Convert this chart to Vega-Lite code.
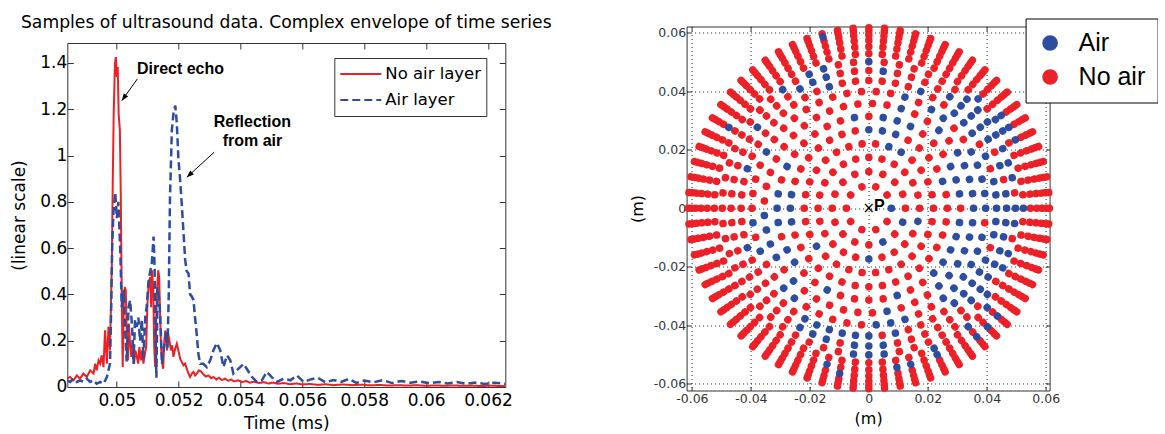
{
"$schema":"https://vega.github.io/schema/vega-lite/v6.json",
"background":"white",
"padding":{"left":9.3,"top":13.5,"right":0,"bottom":0},
"config":{"view":{"stroke":null},"font":"DejaVu Sans","axis":{"labelFont":"DejaVu Sans","titleFont":"DejaVu Sans","titleFontWeight":"normal","labelColor":"black","titleColor":"black","domainColor":"#333","tickColor":"#333","labelOverlap":false,"labelFlush":false,"labelBound":false}},
"resolve":{"scale":{"color":"independent","strokeDash":"independent","stroke":"independent"},"legend":{"color":"independent","strokeDash":"independent"}},
"datasets":{
"rings":[{"k":1,"r":0.0076,"r2":0.00765},{"k":2,"r":0.0124,"r2":0.01245},{"k":3,"r":0.0172,"r2":0.01725},{"k":4,"r":0.0219,"r2":0.02195},{"k":5,"r":0.0266,"r2":0.02665},{"k":6,"r":0.0311,"r2":0.03115},{"k":7,"r":0.0355,"r2":0.03555},{"k":8,"r":0.0396,"r2":0.03965},{"k":9,"r":0.0433,"r2":0.04335},{"k":10,"r":0.0467,"r2":0.04675},{"k":11,"r":0.0497,"r2":0.04975},{"k":12,"r":0.0524,"r2":0.05245},{"k":13,"r":0.0548,"r2":0.05485},{"k":14,"r":0.0569,"r2":0.05695},{"k":15,"r":0.0587,"r2":0.05875},{"k":16,"r":0.0601,"r2":0.06015},{"k":17,"r":0.0612,"r2":0.06125}],
"air":[{"k":1,"a":90},{"k":2,"a":112.5},{"k":2,"a":157.5},{"k":3,"a":105},{"k":3,"a":180},{"k":4,"a":18},{"k":4,"a":30},{"k":4,"a":234},
{"k":5,"a":0},{"k":5,"a":10},{"k":5,"a":20},{"k":5,"a":70},{"k":5,"a":260},{"k":5,"a":270},{"k":5,"a":280},
{"k":6,"a":9},{"k":6,"a":18},{"k":6,"a":27},{"k":6,"a":63},{"k":6,"a":72},{"k":6,"a":81},{"k":6,"a":99},{"k":6,"a":108},{"k":6,"a":117},{"k":6,"a":126},{"k":6,"a":135},{"k":6,"a":162},{"k":6,"a":207},{"k":6,"a":234},{"k":6,"a":243},{"k":6,"a":261},{"k":6,"a":270},{"k":6,"a":279},{"k":6,"a":297},{"k":6,"a":351},
{"k":7,"a":18},{"k":7,"a":42},{"k":7,"a":58},{"k":7,"a":66},{"k":7,"a":74},{"k":7,"a":82},{"k":7,"a":90},{"k":7,"a":98},{"k":7,"a":106},{"k":7,"a":114},{"k":7,"a":122},{"k":7,"a":130},{"k":7,"a":138},{"k":7,"a":170},{"k":7,"a":226},{"k":7,"a":242},{"k":7,"a":250},{"k":7,"a":258},{"k":7,"a":266},
{"k":8,"a":18},{"k":8,"a":32.4},{"k":8,"a":39.6},{"k":8,"a":61.2},{"k":8,"a":68.4},{"k":8,"a":75.6},{"k":8,"a":82.8},{"k":8,"a":90},{"k":8,"a":104.4},{"k":8,"a":111.6},{"k":8,"a":118.8},{"k":8,"a":126},{"k":8,"a":133.2},{"k":8,"a":140.4},{"k":8,"a":162},{"k":8,"a":169.2},{"k":8,"a":176.4},{"k":8,"a":219.6},{"k":8,"a":226.8},{"k":8,"a":248.4},{"k":8,"a":262.8},{"k":8,"a":298.8},
{"k":9,"a":24},{"k":9,"a":42},{"k":9,"a":48},{"k":9,"a":54},{"k":9,"a":66},{"k":9,"a":78},{"k":9,"a":84},{"k":9,"a":90},{"k":9,"a":96},{"k":9,"a":102},{"k":9,"a":114},{"k":9,"a":120},{"k":9,"a":126},{"k":9,"a":132},{"k":9,"a":138},{"k":9,"a":168},{"k":9,"a":180},{"k":9,"a":186},{"k":9,"a":192},{"k":9,"a":198},{"k":9,"a":204},{"k":9,"a":210},{"k":9,"a":252},{"k":9,"a":288},{"k":9,"a":342},
{"k":10,"a":6},{"k":10,"a":36},{"k":10,"a":42},{"k":10,"a":48},{"k":10,"a":54},{"k":10,"a":60},{"k":10,"a":72},{"k":10,"a":84},{"k":10,"a":90},{"k":10,"a":96},{"k":10,"a":102},{"k":10,"a":108},{"k":10,"a":114},{"k":10,"a":120},{"k":10,"a":126},{"k":10,"a":132},{"k":10,"a":174},{"k":10,"a":180},{"k":10,"a":186},{"k":10,"a":198},{"k":10,"a":204},{"k":10,"a":210},{"k":10,"a":306},{"k":10,"a":330},{"k":10,"a":336},{"k":10,"a":342},
{"k":11,"a":0},{"k":11,"a":42},{"k":11,"a":48},{"k":11,"a":54},{"k":11,"a":60},{"k":11,"a":66},{"k":11,"a":72},{"k":11,"a":78},{"k":11,"a":90},{"k":11,"a":96},{"k":11,"a":108},{"k":11,"a":114},{"k":11,"a":126},{"k":11,"a":174},{"k":11,"a":180},{"k":11,"a":186},{"k":11,"a":324},{"k":11,"a":336},{"k":11,"a":342},
{"k":12,"a":45},{"k":12,"a":55},{"k":12,"a":60},{"k":12,"a":90},{"k":12,"a":130},{"k":12,"a":140},{"k":12,"a":155},
{"k":13,"a":55},{"k":13,"a":60},{"k":13,"a":65},{"k":13,"a":155},{"k":13,"a":165},{"k":13,"a":170},{"k":13,"a":195},{"k":13,"a":300},
{"k":14,"a":130},{"k":14,"a":135},{"k":14,"a":140},{"k":14,"a":190},{"k":16,"a":345}],
"noair":[{"k":1,"a":18},{"k":1,"a":54},{"k":1,"a":126},{"k":1,"a":162},{"k":1,"a":198},{"k":1,"a":234},{"k":1,"a":270},{"k":1,"a":306},{"k":1,"a":342},
{"k":2,"a":0},{"k":2,"a":22.5},{"k":2,"a":45},{"k":2,"a":67.5},{"k":2,"a":90},{"k":2,"a":135},{"k":2,"a":180},{"k":2,"a":202.5},{"k":2,"a":225},{"k":2,"a":247.5},{"k":2,"a":270},{"k":2,"a":292.5},{"k":2,"a":315},{"k":2,"a":337.5},
{"k":3,"a":0},{"k":3,"a":15},{"k":3,"a":30},{"k":3,"a":45},{"k":3,"a":60},{"k":3,"a":75},{"k":3,"a":90},{"k":3,"a":120},{"k":3,"a":135},{"k":3,"a":150},{"k":3,"a":165},{"k":3,"a":195},{"k":3,"a":210},{"k":3,"a":225},{"k":3,"a":240},{"k":3,"a":255},{"k":3,"a":270},{"k":3,"a":285},{"k":3,"a":300},{"k":3,"a":315},{"k":3,"a":330},{"k":3,"a":345},
{"k":4,"a":6},{"k":4,"a":42},{"k":4,"a":54},{"k":4,"a":66},{"k":4,"a":78},{"k":4,"a":90},{"k":4,"a":102},{"k":4,"a":114},{"k":4,"a":126},{"k":4,"a":138},{"k":4,"a":150},{"k":4,"a":162},{"k":4,"a":174},{"k":4,"a":186},{"k":4,"a":198},{"k":4,"a":210},{"k":4,"a":222},{"k":4,"a":246},{"k":4,"a":258},{"k":4,"a":270},{"k":4,"a":282},{"k":4,"a":294},{"k":4,"a":306},{"k":4,"a":318},{"k":4,"a":330},{"k":4,"a":342},{"k":4,"a":354},
{"k":5,"a":30},{"k":5,"a":40},{"k":5,"a":50},{"k":5,"a":60},{"k":5,"a":80},{"k":5,"a":90},{"k":5,"a":100},{"k":5,"a":110},{"k":5,"a":120},{"k":5,"a":130},{"k":5,"a":140},{"k":5,"a":150},{"k":5,"a":160},{"k":5,"a":170},{"k":5,"a":180},{"k":5,"a":190},{"k":5,"a":200},{"k":5,"a":210},{"k":5,"a":220},{"k":5,"a":230},{"k":5,"a":240},{"k":5,"a":250},{"k":5,"a":290},{"k":5,"a":300},{"k":5,"a":310},{"k":5,"a":320},{"k":5,"a":330},{"k":5,"a":340},{"k":5,"a":350},
{"k":6,"a":0},{"k":6,"a":36},{"k":6,"a":45},{"k":6,"a":54},{"k":6,"a":90},{"k":6,"a":144},{"k":6,"a":153},{"k":6,"a":171},{"k":6,"a":180},{"k":6,"a":189},{"k":6,"a":198},{"k":6,"a":216},{"k":6,"a":225},{"k":6,"a":252},{"k":6,"a":288},{"k":6,"a":306},{"k":6,"a":315},{"k":6,"a":324},{"k":6,"a":333},{"k":6,"a":342},
{"k":7,"a":2},{"k":7,"a":10},{"k":7,"a":26},{"k":7,"a":34},{"k":7,"a":50},{"k":7,"a":146},{"k":7,"a":154},{"k":7,"a":162},{"k":7,"a":178},{"k":7,"a":186},{"k":7,"a":194},{"k":7,"a":202},{"k":7,"a":210},{"k":7,"a":218},{"k":7,"a":234},{"k":7,"a":274},{"k":7,"a":282},{"k":7,"a":290},{"k":7,"a":298},{"k":7,"a":306},{"k":7,"a":314},{"k":7,"a":322},{"k":7,"a":330},{"k":7,"a":338},{"k":7,"a":346},{"k":7,"a":354},
{"k":8,"a":3.6},{"k":8,"a":10.8},{"k":8,"a":25.2},{"k":8,"a":46.8},{"k":8,"a":54},{"k":8,"a":97.2},{"k":8,"a":147.6},{"k":8,"a":154.8},{"k":8,"a":183.6},{"k":8,"a":190.8},{"k":8,"a":198},{"k":8,"a":205.2},{"k":8,"a":212.4},{"k":8,"a":234},{"k":8,"a":241.2},{"k":8,"a":255.6},{"k":8,"a":270},{"k":8,"a":277.2},{"k":8,"a":284.4},{"k":8,"a":291.6},{"k":8,"a":306},{"k":8,"a":313.2},{"k":8,"a":320.4},{"k":8,"a":327.6},{"k":8,"a":334.8},{"k":8,"a":342},{"k":8,"a":349.2},{"k":8,"a":356.4},
{"k":9,"a":0},{"k":9,"a":6},{"k":9,"a":12},{"k":9,"a":18},{"k":9,"a":30},{"k":9,"a":36},{"k":9,"a":60},{"k":9,"a":72},{"k":9,"a":108},{"k":9,"a":144},{"k":9,"a":150},{"k":9,"a":156},{"k":9,"a":162},{"k":9,"a":174},{"k":9,"a":216},{"k":9,"a":222},{"k":9,"a":228},{"k":9,"a":234},{"k":9,"a":240},{"k":9,"a":246},{"k":9,"a":258},{"k":9,"a":264},{"k":9,"a":270},{"k":9,"a":276},{"k":9,"a":282},{"k":9,"a":294},{"k":9,"a":300},{"k":9,"a":306},{"k":9,"a":312},{"k":9,"a":318},{"k":9,"a":324},{"k":9,"a":330},{"k":9,"a":336},{"k":9,"a":348},{"k":9,"a":354},
{"k":10,"a":0},{"k":10,"a":12},{"k":10,"a":18},{"k":10,"a":24},{"k":10,"a":30},{"k":10,"a":66},{"k":10,"a":78},{"k":10,"a":138},{"k":10,"a":144},{"k":10,"a":150},{"k":10,"a":156},{"k":10,"a":162},{"k":10,"a":168},{"k":10,"a":192},{"k":10,"a":216},{"k":10,"a":222},{"k":10,"a":228},{"k":10,"a":234},{"k":10,"a":240},{"k":10,"a":246},{"k":10,"a":252},{"k":10,"a":258},{"k":10,"a":264},{"k":10,"a":270},{"k":10,"a":276},{"k":10,"a":282},{"k":10,"a":288},{"k":10,"a":294},{"k":10,"a":300},{"k":10,"a":312},{"k":10,"a":318},{"k":10,"a":324},{"k":10,"a":348},{"k":10,"a":354},
{"k":11,"a":6},{"k":11,"a":12},{"k":11,"a":18},{"k":11,"a":24},{"k":11,"a":30},{"k":11,"a":36},{"k":11,"a":84},{"k":11,"a":102},{"k":11,"a":120},{"k":11,"a":132},{"k":11,"a":138},{"k":11,"a":144},{"k":11,"a":150},{"k":11,"a":156},{"k":11,"a":162},{"k":11,"a":168},{"k":11,"a":192},{"k":11,"a":198},{"k":11,"a":204},{"k":11,"a":210},{"k":11,"a":216},{"k":11,"a":222},{"k":11,"a":228},{"k":11,"a":234},{"k":11,"a":240},{"k":11,"a":246},{"k":11,"a":252},{"k":11,"a":258},{"k":11,"a":264},{"k":11,"a":270},{"k":11,"a":276},{"k":11,"a":282},{"k":11,"a":288},{"k":11,"a":294},{"k":11,"a":300},{"k":11,"a":306},{"k":11,"a":312},{"k":11,"a":318},{"k":11,"a":330},{"k":11,"a":348},{"k":11,"a":354},
{"k":12,"a":0},{"k":12,"a":5},{"k":12,"a":10},{"k":12,"a":15},{"k":12,"a":20},{"k":12,"a":25},{"k":12,"a":30},{"k":12,"a":35},{"k":12,"a":40},{"k":12,"a":50},{"k":12,"a":65},{"k":12,"a":70},{"k":12,"a":75},{"k":12,"a":80},{"k":12,"a":85},{"k":12,"a":95},{"k":12,"a":100},{"k":12,"a":105},{"k":12,"a":110},{"k":12,"a":115},{"k":12,"a":120},{"k":12,"a":125},{"k":12,"a":135},{"k":12,"a":145},{"k":12,"a":150},{"k":12,"a":160},{"k":12,"a":165},{"k":12,"a":170},{"k":12,"a":175},{"k":12,"a":180},{"k":12,"a":185},{"k":12,"a":190},{"k":12,"a":195},{"k":12,"a":200},{"k":12,"a":205},{"k":12,"a":210},{"k":12,"a":215},{"k":12,"a":220},{"k":12,"a":225},{"k":12,"a":230},{"k":12,"a":235},{"k":12,"a":240},{"k":12,"a":245},{"k":12,"a":250},{"k":12,"a":255},{"k":12,"a":260},{"k":12,"a":265},{"k":12,"a":270},{"k":12,"a":275},{"k":12,"a":280},{"k":12,"a":285},{"k":12,"a":290},{"k":12,"a":295},{"k":12,"a":300},{"k":12,"a":305},{"k":12,"a":310},{"k":12,"a":315},{"k":12,"a":320},{"k":12,"a":325},{"k":12,"a":330},{"k":12,"a":335},{"k":12,"a":340},{"k":12,"a":345},{"k":12,"a":350},{"k":12,"a":355},
{"k":13,"a":0},{"k":13,"a":5},{"k":13,"a":10},{"k":13,"a":15},{"k":13,"a":20},{"k":13,"a":25},{"k":13,"a":30},{"k":13,"a":35},{"k":13,"a":40},{"k":13,"a":45},{"k":13,"a":50},{"k":13,"a":70},{"k":13,"a":75},{"k":13,"a":80},{"k":13,"a":85},{"k":13,"a":90},{"k":13,"a":95},{"k":13,"a":100},{"k":13,"a":105},{"k":13,"a":110},{"k":13,"a":115},{"k":13,"a":120},{"k":13,"a":125},{"k":13,"a":130},{"k":13,"a":135},{"k":13,"a":140},{"k":13,"a":145},{"k":13,"a":150},{"k":13,"a":160},{"k":13,"a":175},{"k":13,"a":180},{"k":13,"a":185},{"k":13,"a":190},{"k":13,"a":200},{"k":13,"a":205},{"k":13,"a":210},{"k":13,"a":215},{"k":13,"a":220},{"k":13,"a":225},{"k":13,"a":230},{"k":13,"a":235},{"k":13,"a":240},{"k":13,"a":245},{"k":13,"a":250},{"k":13,"a":255},{"k":13,"a":260},{"k":13,"a":265},{"k":13,"a":270},{"k":13,"a":275},{"k":13,"a":280},{"k":13,"a":285},{"k":13,"a":290},{"k":13,"a":295},{"k":13,"a":305},{"k":13,"a":310},{"k":13,"a":315},{"k":13,"a":320},{"k":13,"a":325},{"k":13,"a":330},{"k":13,"a":335},{"k":13,"a":340},{"k":13,"a":345},{"k":13,"a":350},{"k":13,"a":355},
{"k":14,"a":0},{"k":14,"a":5},{"k":14,"a":10},{"k":14,"a":15},{"k":14,"a":20},{"k":14,"a":25},{"k":14,"a":30},{"k":14,"a":35},{"k":14,"a":40},{"k":14,"a":45},{"k":14,"a":50},{"k":14,"a":55},{"k":14,"a":60},{"k":14,"a":65},{"k":14,"a":70},{"k":14,"a":75},{"k":14,"a":80},{"k":14,"a":85},{"k":14,"a":90},{"k":14,"a":95},{"k":14,"a":100},{"k":14,"a":105},{"k":14,"a":110},{"k":14,"a":115},{"k":14,"a":120},{"k":14,"a":125},{"k":14,"a":145},{"k":14,"a":150},{"k":14,"a":155},{"k":14,"a":160},{"k":14,"a":165},{"k":14,"a":170},{"k":14,"a":175},{"k":14,"a":180},{"k":14,"a":185},{"k":14,"a":195},{"k":14,"a":200},{"k":14,"a":205},{"k":14,"a":210},{"k":14,"a":215},{"k":14,"a":220},{"k":14,"a":225},{"k":14,"a":230},{"k":14,"a":235},{"k":14,"a":240},{"k":14,"a":245},{"k":14,"a":250},{"k":14,"a":255},{"k":14,"a":260},{"k":14,"a":265},{"k":14,"a":270},{"k":14,"a":275},{"k":14,"a":280},{"k":14,"a":285},{"k":14,"a":290},{"k":14,"a":295},{"k":14,"a":300},{"k":14,"a":305},{"k":14,"a":310},{"k":14,"a":315},{"k":14,"a":320},{"k":14,"a":325},{"k":14,"a":330},{"k":14,"a":335},{"k":14,"a":340},{"k":14,"a":345},{"k":14,"a":350},{"k":14,"a":355},
{"k":15,"a":0},{"k":15,"a":5},{"k":15,"a":10},{"k":15,"a":15},{"k":15,"a":20},{"k":15,"a":25},{"k":15,"a":30},{"k":15,"a":35},{"k":15,"a":40},{"k":15,"a":45},{"k":15,"a":50},{"k":15,"a":55},{"k":15,"a":60},{"k":15,"a":65},{"k":15,"a":70},{"k":15,"a":75},{"k":15,"a":80},{"k":15,"a":85},{"k":15,"a":90},{"k":15,"a":95},{"k":15,"a":100},{"k":15,"a":105},{"k":15,"a":110},{"k":15,"a":115},{"k":15,"a":120},{"k":15,"a":125},{"k":15,"a":130},{"k":15,"a":135},{"k":15,"a":140},{"k":15,"a":145},{"k":15,"a":150},{"k":15,"a":155},{"k":15,"a":160},{"k":15,"a":165},{"k":15,"a":170},{"k":15,"a":175},{"k":15,"a":180},{"k":15,"a":185},{"k":15,"a":190},{"k":15,"a":195},{"k":15,"a":200},{"k":15,"a":205},{"k":15,"a":210},{"k":15,"a":215},{"k":15,"a":220},{"k":15,"a":225},{"k":15,"a":230},{"k":15,"a":235},{"k":15,"a":240},{"k":15,"a":245},{"k":15,"a":250},{"k":15,"a":255},{"k":15,"a":260},{"k":15,"a":265},{"k":15,"a":270},{"k":15,"a":275},{"k":15,"a":280},{"k":15,"a":285},{"k":15,"a":290},{"k":15,"a":295},{"k":15,"a":300},{"k":15,"a":305},{"k":15,"a":310},{"k":15,"a":315},{"k":15,"a":320},{"k":15,"a":325},{"k":15,"a":330},{"k":15,"a":335},{"k":15,"a":340},{"k":15,"a":345},{"k":15,"a":350},{"k":15,"a":355},
{"k":16,"a":0},{"k":16,"a":5},{"k":16,"a":10},{"k":16,"a":15},{"k":16,"a":20},{"k":16,"a":25},{"k":16,"a":30},{"k":16,"a":35},{"k":16,"a":40},{"k":16,"a":45},{"k":16,"a":50},{"k":16,"a":55},{"k":16,"a":60},{"k":16,"a":65},{"k":16,"a":70},{"k":16,"a":75},{"k":16,"a":80},{"k":16,"a":85},{"k":16,"a":90},{"k":16,"a":95},{"k":16,"a":100},{"k":16,"a":105},{"k":16,"a":110},{"k":16,"a":115},{"k":16,"a":120},{"k":16,"a":125},{"k":16,"a":130},{"k":16,"a":135},{"k":16,"a":140},{"k":16,"a":145},{"k":16,"a":150},{"k":16,"a":155},{"k":16,"a":160},{"k":16,"a":165},{"k":16,"a":170},{"k":16,"a":175},{"k":16,"a":180},{"k":16,"a":185},{"k":16,"a":190},{"k":16,"a":195},{"k":16,"a":200},{"k":16,"a":205},{"k":16,"a":210},{"k":16,"a":215},{"k":16,"a":220},{"k":16,"a":225},{"k":16,"a":230},{"k":16,"a":235},{"k":16,"a":240},{"k":16,"a":245},{"k":16,"a":250},{"k":16,"a":255},{"k":16,"a":260},{"k":16,"a":265},{"k":16,"a":270},{"k":16,"a":275},{"k":16,"a":280},{"k":16,"a":285},{"k":16,"a":290},{"k":16,"a":295},{"k":16,"a":300},{"k":16,"a":305},{"k":16,"a":310},{"k":16,"a":315},{"k":16,"a":320},{"k":16,"a":325},{"k":16,"a":330},{"k":16,"a":335},{"k":16,"a":340},{"k":16,"a":350},{"k":16,"a":355},
{"k":17,"a":0},{"k":17,"a":5},{"k":17,"a":10},{"k":17,"a":15},{"k":17,"a":20},{"k":17,"a":25},{"k":17,"a":30},{"k":17,"a":35},{"k":17,"a":40},{"k":17,"a":45},{"k":17,"a":50},{"k":17,"a":55},{"k":17,"a":60},{"k":17,"a":65},{"k":17,"a":70},{"k":17,"a":75},{"k":17,"a":80},{"k":17,"a":85},{"k":17,"a":90},{"k":17,"a":95},{"k":17,"a":100},{"k":17,"a":105},{"k":17,"a":110},{"k":17,"a":115},{"k":17,"a":120},{"k":17,"a":125},{"k":17,"a":130},{"k":17,"a":135},{"k":17,"a":140},{"k":17,"a":145},{"k":17,"a":150},{"k":17,"a":155},{"k":17,"a":160},{"k":17,"a":165},{"k":17,"a":170},{"k":17,"a":175},{"k":17,"a":180},{"k":17,"a":185},{"k":17,"a":190},{"k":17,"a":195},{"k":17,"a":200},{"k":17,"a":205},{"k":17,"a":210},{"k":17,"a":215},{"k":17,"a":220},{"k":17,"a":225},{"k":17,"a":230},{"k":17,"a":235},{"k":17,"a":240},{"k":17,"a":245},{"k":17,"a":250},{"k":17,"a":255},{"k":17,"a":260},{"k":17,"a":265},{"k":17,"a":270},{"k":17,"a":275},{"k":17,"a":280},{"k":17,"a":285},{"k":17,"a":290},{"k":17,"a":295},{"k":17,"a":300},{"k":17,"a":305},{"k":17,"a":310},{"k":17,"a":315},{"k":17,"a":320},{"k":17,"a":325},{"k":17,"a":330},{"k":17,"a":335},{"k":17,"a":340},{"k":17,"a":345},{"k":17,"a":350},{"k":17,"a":355}],
"redline":[{"t":0.04838,"v":0.036},{"t":0.04849,"v":0.043},{"t":0.0486,"v":0.029},{"t":0.04871,"v":0.05},{"t":0.04881,"v":0.036},{"t":0.04892,"v":0.058},{"t":0.04903,"v":0.043},{"t":0.04914,"v":0.072},{"t":0.04925,"v":0.058},{"t":0.0493,"v":0.1},{"t":0.04935,"v":0.072},{"t":0.04941,"v":0.115},{"t":0.04946,"v":0.101},{"t":0.04951,"v":0.137},{"t":0.04957,"v":0.086},{"t":0.04962,"v":0.245},{"t":0.04968,"v":0.101},{"t":0.04973,"v":0.26},{"t":0.04978,"v":0.158},{"t":0.04984,"v":0.533},{"t":0.04987,"v":0.893},{"t":0.0499,"v":1.18},{"t":0.04994,"v":1.396},{"t":0.04997,"v":1.425},{"t":0.05,"v":1.339},{"t":0.05003,"v":1.382},{"t":0.05006,"v":1.18},{"t":0.0501,"v":1.108},{"t":0.05013,"v":0.82},{"t":0.05016,"v":0.389},{"t":0.05019,"v":0.086},{"t":0.05023,"v":0.389},{"t":0.05026,"v":0.432},{"t":0.05029,"v":0.418},{"t":0.05032,"v":0.245},{"t":0.05036,"v":0.115},{"t":0.05039,"v":0.274},{"t":0.05043,"v":0.187},{"t":0.05047,"v":0.13},{"t":0.05052,"v":0.202},{"t":0.05056,"v":0.101},{"t":0.0506,"v":0.158},{"t":0.05065,"v":0.13},{"t":0.05069,"v":0.101},{"t":0.05073,"v":0.173},{"t":0.05078,"v":0.115},{"t":0.05082,"v":0.158},{"t":0.05086,"v":0.101},{"t":0.05091,"v":0.144},{"t":0.05095,"v":0.173},{"t":0.05099,"v":0.36},{"t":0.05103,"v":0.446},{"t":0.05108,"v":0.475},{"t":0.05111,"v":0.345},{"t":0.05114,"v":0.504},{"t":0.05118,"v":0.418},{"t":0.05121,"v":0.173},{"t":0.05124,"v":0.086},{"t":0.05127,"v":0.274},{"t":0.0513,"v":0.418},{"t":0.05134,"v":0.504},{"t":0.05137,"v":0.475},{"t":0.0514,"v":0.317},{"t":0.05143,"v":0.173},{"t":0.05147,"v":0.101},{"t":0.0515,"v":0.079},{"t":0.05153,"v":0.187},{"t":0.05157,"v":0.245},{"t":0.05162,"v":0.158},{"t":0.05166,"v":0.23},{"t":0.0517,"v":0.202},{"t":0.05175,"v":0.158},{"t":0.05179,"v":0.18},{"t":0.05183,"v":0.13},{"t":0.05189,"v":0.166},{"t":0.05194,"v":0.187},{"t":0.05199,"v":0.158},{"t":0.05205,"v":0.122},{"t":0.0521,"v":0.108},{"t":0.05216,"v":0.094},{"t":0.05221,"v":0.101},{"t":0.05226,"v":0.079},{"t":0.05232,"v":0.058},{"t":0.05237,"v":0.043},{"t":0.05243,"v":0.058},{"t":0.05248,"v":0.065},{"t":0.05253,"v":0.05},{"t":0.05259,"v":0.058},{"t":0.05265,"v":0.072},{"t":0.05272,"v":0.068},{"t":0.0528,"v":0.055},{"t":0.05288,"v":0.045},{"t":0.05296,"v":0.05},{"t":0.05305,"v":0.038},{"t":0.05313,"v":0.043},{"t":0.05322,"v":0.032},{"t":0.0533,"v":0.04},{"t":0.0534,"v":0.03},{"t":0.0535,"v":0.036},{"t":0.0536,"v":0.027},{"t":0.0537,"v":0.032},{"t":0.0538,"v":0.024},{"t":0.05392,"v":0.029},{"t":0.05405,"v":0.021},{"t":0.05418,"v":0.026},{"t":0.0543,"v":0.019},{"t":0.05445,"v":0.023},{"t":0.0546,"v":0.017},{"t":0.05475,"v":0.021},{"t":0.0549,"v":0.015},{"t":0.05505,"v":0.019},{"t":0.0552,"v":0.014},{"t":0.0554,"v":0.017},{"t":0.0556,"v":0.012},{"t":0.0558,"v":0.015},{"t":0.056,"v":0.011},{"t":0.05625,"v":0.013},{"t":0.0565,"v":0.009},{"t":0.05675,"v":0.012},{"t":0.057,"v":0.008},{"t":0.0573,"v":0.011},{"t":0.0576,"v":0.008},{"t":0.0579,"v":0.01},{"t":0.0582,"v":0.007},{"t":0.0585,"v":0.009},{"t":0.0588,"v":0.006},{"t":0.0591,"v":0.008},{"t":0.0594,"v":0.006},{"t":0.0597,"v":0.008},{"t":0.06,"v":0.005},{"t":0.0603,"v":0.007},{"t":0.0606,"v":0.005},{"t":0.0609,"v":0.007},{"t":0.0612,"v":0.005},{"t":0.0615,"v":0.006},{"t":0.0618,"v":0.004},{"t":0.0621,"v":0.006},{"t":0.0624,"v":0.004},{"t":0.06256,"v":0.005}],
"blueline":[{"t":0.04838,"v":0.029},{"t":0.04849,"v":0.022},{"t":0.0486,"v":0.036},{"t":0.04871,"v":0.022},{"t":0.04881,"v":0.029},{"t":0.04892,"v":0.022},{"t":0.04903,"v":0.036},{"t":0.04914,"v":0.022},{"t":0.04925,"v":0.029},{"t":0.04935,"v":0.014},{"t":0.04946,"v":0.022},{"t":0.04957,"v":0.014},{"t":0.04968,"v":0.043},{"t":0.04973,"v":0.072},{"t":0.04978,"v":0.1},{"t":0.04982,"v":0.35},{"t":0.04985,"v":0.6},{"t":0.04989,"v":0.75},{"t":0.04995,"v":0.84},{"t":0.05,"v":0.73},{"t":0.05005,"v":0.8},{"t":0.05011,"v":0.6},{"t":0.05016,"v":0.345},{"t":0.05022,"v":0.42},{"t":0.05027,"v":0.24},{"t":0.05032,"v":0.11},{"t":0.05038,"v":0.345},{"t":0.05043,"v":0.375},{"t":0.05049,"v":0.27},{"t":0.05054,"v":0.1},{"t":0.05059,"v":0.29},{"t":0.05065,"v":0.26},{"t":0.0507,"v":0.3},{"t":0.05075,"v":0.2},{"t":0.05081,"v":0.29},{"t":0.05086,"v":0.12},{"t":0.05092,"v":0.3},{"t":0.05097,"v":0.35},{"t":0.05102,"v":0.45},{"t":0.05108,"v":0.5},{"t":0.05113,"v":0.53},{"t":0.05119,"v":0.65},{"t":0.05122,"v":0.53},{"t":0.05125,"v":0.25},{"t":0.05128,"v":0.04},{"t":0.05132,"v":0.43},{"t":0.05136,"v":0.39},{"t":0.0514,"v":0.32},{"t":0.05146,"v":0.1},{"t":0.05151,"v":0.16},{"t":0.0516,"v":0.24},{"t":0.05164,"v":0.17},{"t":0.05168,"v":0.4},{"t":0.05172,"v":0.82},{"t":0.05178,"v":1.11},{"t":0.05183,"v":1.18},{"t":0.05189,"v":1.216},{"t":0.05194,"v":1.14},{"t":0.05199,"v":0.99},{"t":0.05205,"v":0.89},{"t":0.0521,"v":0.79},{"t":0.05216,"v":0.66},{"t":0.05221,"v":0.55},{"t":0.05226,"v":0.5},{"t":0.05232,"v":0.49},{"t":0.05237,"v":0.4},{"t":0.05243,"v":0.39},{"t":0.05248,"v":0.375},{"t":0.05253,"v":0.3},{"t":0.05259,"v":0.22},{"t":0.05264,"v":0.14},{"t":0.0527,"v":0.1},{"t":0.0528,"v":0.1},{"t":0.05291,"v":0.086},{"t":0.05302,"v":0.115},{"t":0.05313,"v":0.16},{"t":0.05323,"v":0.19},{"t":0.05334,"v":0.16},{"t":0.05345,"v":0.086},{"t":0.05356,"v":0.137},{"t":0.05367,"v":0.115},{"t":0.05377,"v":0.058},{"t":0.05388,"v":0.072},{"t":0.05399,"v":0.086},{"t":0.0541,"v":0.1},{"t":0.0542,"v":0.079},{"t":0.05437,"v":0.043},{"t":0.05453,"v":0.022},{"t":0.05469,"v":0.029},{"t":0.05485,"v":0.065},{"t":0.05501,"v":0.043},{"t":0.05517,"v":0.022},{"t":0.05539,"v":0.036},{"t":0.05561,"v":0.029},{"t":0.05582,"v":0.05},{"t":0.05604,"v":0.022},{"t":0.05625,"v":0.032},{"t":0.0565,"v":0.04},{"t":0.05675,"v":0.02},{"t":0.057,"v":0.03},{"t":0.05725,"v":0.022},{"t":0.0575,"v":0.035},{"t":0.05775,"v":0.018},{"t":0.058,"v":0.028},{"t":0.0583,"v":0.02},{"t":0.0586,"v":0.03},{"t":0.0589,"v":0.017},{"t":0.0592,"v":0.026},{"t":0.0595,"v":0.018},{"t":0.0598,"v":0.024},{"t":0.0601,"v":0.016},{"t":0.0604,"v":0.022},{"t":0.0607,"v":0.015},{"t":0.061,"v":0.021},{"t":0.0613,"v":0.014},{"t":0.0616,"v":0.019},{"t":0.0619,"v":0.013},{"t":0.0622,"v":0.018},{"t":0.06256,"v":0.014}]
},
"spacing":76.3,
"hconcat":[
{"spacing":10.5,"vconcat":[
 {"width":438,"height":2,"data":{"values":[{"t":"Samples of ultrasound data. Complex envelope of time series"}]},
  "mark":{"type":"text","font":"DejaVu Sans","fontSize":17.2,"align":"center","baseline":"alphabetic","color":"black"},
  "encoding":{"text":{"field":"t","type":"nominal"}}},
 {"width":438,"height":344,
  "layer":[
   {"data":{"name":"redline"},"mark":{"type":"line","strokeWidth":2,"clip":true},
    "encoding":{
     "x":{"field":"t","type":"quantitative","scale":{"domain":[0.0484,0.06256],"nice":false,"zero":false},
      "axis":{"orient":"bottom","values":[0.05,0.052,0.054,0.056,0.058,0.06,0.062],"format":"~g","title":"Time (ms)","titleFontSize":17,"titlePadding":7,"labelFontSize":17,"tickSize":-6,"labelPadding":12,"grid":false}},
     "y":{"field":"v","type":"quantitative","scale":{"domain":[0,1.486],"nice":false},
      "axis":{"orient":"left","values":[0,0.2,0.4,0.6,0.8,1,1.2,1.4],"format":"~g","title":"(linear scale)","titleFontSize":17,"titlePadding":11.5,"labelFontSize":17,"tickSize":-6,"labelPadding":6.5,"grid":false}},
     "color":{"datum":"No air layer","type":"nominal","scale":{"domain":["No air layer","Air layer"],"range":["#ed2024","#2d4da0"]},
      "legend":{"title":null,"orient":"none","legendX":267,"legendY":31.5,"fillColor":"white","strokeColor":"#333","padding":5,"symbolType":"stroke","symbolSize":1681,"symbolStrokeWidth":2,"clipHeight":22,"rowPadding":4,"labelFontSize":16.5,"labelFont":"DejaVu Sans","labelColor":"black","labelOffset":3}},
     "strokeDash":{"datum":"No air layer","type":"nominal","scale":{"domain":["No air layer","Air layer"],"range":[[1,0],[8,4]]},
      "legend":{"title":null,"orient":"none","legendX":267,"legendY":31.5,"fillColor":"white","strokeColor":"#333","padding":5,"symbolType":"stroke","symbolSize":1681,"symbolStrokeWidth":2,"clipHeight":22,"rowPadding":4,"labelFontSize":16.5,"labelFont":"DejaVu Sans","labelColor":"black","labelOffset":3}}
    }},
   {"data":{"name":"blueline"},"mark":{"type":"line","strokeWidth":2.5,"clip":true},
    "encoding":{
     "x":{"field":"t","type":"quantitative","axis":{"orient":"top","values":[0.05,0.052,0.054,0.056,0.058,0.06,0.062],"labels":false,"title":null,"tickSize":-6,"grid":false}},
     "y":{"field":"v","type":"quantitative","axis":{"orient":"right","values":[0,0.2,0.4,0.6,0.8,1,1.2,1.4],"labels":false,"title":null,"tickSize":-6,"grid":false}},
     "color":{"datum":"Air layer","type":"nominal"},
     "strokeDash":{"datum":"Air layer","type":"nominal"}
    }},
   {"data":{"values":[{"x":0.05206,"y":1.374,"t":"Direct echo"},{"x":0.054386,"y":1.144,"t":"Reflection"},{"x":0.054386,"y":1.062,"t":"from air"}]},
    "mark":{"type":"text","font":"Liberation Sans","fontSize":16,"fontWeight":"bold","align":"center","baseline":"middle","color":"black"},
    "encoding":{"x":{"field":"x","type":"quantitative","axis":null},"y":{"field":"y","type":"quantitative","axis":null},"text":{"field":"t","type":"nominal"}}},
   {"data":{"values":[{"x":0.050666,"y":1.331,"x2":0.050162,"y2":1.237},{"x":0.053147,"y":1.014,"x2":0.052264,"y2":0.906}]},
    "mark":{"type":"rule","strokeWidth":1,"color":"black"},
    "encoding":{"x":{"field":"x","type":"quantitative","axis":null},"y":{"field":"y","type":"quantitative","axis":null},"x2":{"field":"x2"},"y2":{"field":"y2"}}},
   {"data":{"values":[{"x":0.050162,"y":1.237}]},
    "mark":{"type":"point","shape":"M0,0L0.38,1L-0.38,1Z","angle":215.7,"filled":true,"size":200,"color":"black","opacity":1},
    "encoding":{"x":{"field":"x","type":"quantitative","axis":null},"y":{"field":"y","type":"quantitative","axis":null}}},
   {"data":{"values":[{"x":0.052264,"y":0.906}]},
    "mark":{"type":"point","shape":"M0,0L0.38,1L-0.38,1Z","angle":227.5,"filled":true,"size":200,"color":"black","opacity":1},
    "encoding":{"x":{"field":"x","type":"quantitative","axis":null},"y":{"field":"y","type":"quantitative","axis":null}}}
  ],
  "resolve":{"axis":{"x":"independent","y":"independent"}}}
]},
{"width":363,"height":364,
 "layer":[
  {"data":{"name":"noair"},"transform":[{"lookup":"k","from":{"data":{"name":"rings"},"key":"k","fields":["r","r2"]}}],
   "mark":{"type":"arc","strokeWidth":7.5,"strokeCap":"round","strokeJoin":"round"},
   "encoding":{
    "x":{"datum":0,"type":"quantitative","scale":{"domain":[-0.0618,0.0613],"nice":false,"zero":false},
     "axis":{"orient":"bottom","values":[-0.06,-0.04,-0.02,0,0.02,0.04,0.06],"labelExpr":"datum.value < 0 ? '-' + format(-datum.value, '~g') : format(datum.value, '~g')","title":"(m)","titleFontSize":16,"titlePadding":6,"labelFontSize":12.5,"labelColor":"#333","tickSize":-4,"labelPadding":6,"grid":true,"gridDash":[1,3],"gridColor":"#222","gridOpacity":1}},
    "y":{"datum":0,"type":"quantitative","scale":{"domain":[-0.0624,0.0622],"nice":false,"zero":false},
     "axis":{"orient":"left","values":[-0.06,-0.04,-0.02,0,0.02,0.04,0.06],"labelExpr":"datum.value < 0 ? '-' + format(-datum.value, '~g') : format(datum.value, '~g')","title":"(m)","titleFontSize":16,"titlePadding":8,"labelFontSize":12.5,"labelColor":"#333","tickSize":-4,"labelPadding":5,"grid":true,"gridDash":[1,3],"gridColor":"#222","gridOpacity":1}},
    "theta":{"field":"a","type":"quantitative","stack":null,"scale":{"domain":[0,360],"range":[0,6.283185307]}},
    "theta2":{"field":"a"},
    "radius":{"field":"r","type":"quantitative","scale":{"type":"linear","domain":[0,0.0617],"range":[0,181.9],"zero":true,"nice":false}},
    "radius2":{"field":"r2"},
    "color":{"datum":"No air","type":"nominal","scale":{"domain":["Air","No air"],"range":["#2d4da0","#ec2027"]},
     "legend":{"title":null,"orient":"none","legendX":339,"legendY":-8,"fillColor":"white","strokeColor":"black","padding":12,"symbolType":"circle","symbolSize":200,"rowPadding":8,"labelFontSize":25,"labelFont":"Liberation Sans","labelColor":"black","labelOffset":16,"encode":{"symbols":{"update":{"stroke":{"value":"black"},"strokeWidth":{"value":1.5}}}}}},
    "stroke":{"datum":"No air","type":"nominal","scale":{"domain":["Air","No air"],"range":["#2d4da0","#ec2027"]},"legend":null}
   }},
  {"data":{"name":"air"},"transform":[{"lookup":"k","from":{"data":{"name":"rings"},"key":"k","fields":["r","r2"]}}],
   "mark":{"type":"arc","strokeWidth":7.5,"strokeCap":"round","strokeJoin":"round"},
   "encoding":{
    "x":{"datum":0,"type":"quantitative","axis":{"orient":"top","values":[-0.06,-0.04,-0.02,0,0.02,0.04,0.06],"labels":false,"title":null,"tickSize":-4,"grid":false}},
    "y":{"datum":0,"type":"quantitative","axis":{"orient":"right","values":[-0.06,-0.04,-0.02,0,0.02,0.04,0.06],"labels":false,"title":null,"tickSize":-4,"grid":false}},
    "theta":{"field":"a","type":"quantitative","stack":null},
    "theta2":{"field":"a"},
    "radius":{"field":"r","type":"quantitative"},
    "radius2":{"field":"r2"},
    "color":{"datum":"Air","type":"nominal",
     "legend":{"title":null,"orient":"none","legendX":339,"legendY":-8,"fillColor":"white","strokeColor":"black","padding":12,"symbolType":"circle","symbolSize":200,"rowPadding":8,"labelFontSize":25,"labelFont":"Liberation Sans","labelColor":"black","labelOffset":16,"encode":{"symbols":{"update":{"stroke":{"value":"black"},"strokeWidth":{"value":1.5}}}}}},
    "stroke":{"datum":"Air","type":"nominal","legend":null}
   }},
  {"data":{"values":[{"x":0,"y":0,"t":"×"}]},
   "mark":{"type":"text","font":"DejaVu Sans","fontSize":15,"align":"center","baseline":"middle","color":"black"},
   "encoding":{"x":{"field":"x","type":"quantitative","axis":null},"y":{"field":"y","type":"quantitative","axis":null},"text":{"field":"t","type":"nominal"}}},
  {"data":{"values":[{"x":0.0036,"y":0.0008,"t":"P"}]},
   "mark":{"type":"text","font":"Liberation Sans","fontSize":16,"fontWeight":"bold","align":"center","baseline":"middle","color":"black"},
   "encoding":{"x":{"field":"x","type":"quantitative","axis":null},"y":{"field":"y","type":"quantitative","axis":null},"text":{"field":"t","type":"nominal"}}}
 ],
 "resolve":{"axis":{"x":"independent","y":"independent"}}}
]
}
